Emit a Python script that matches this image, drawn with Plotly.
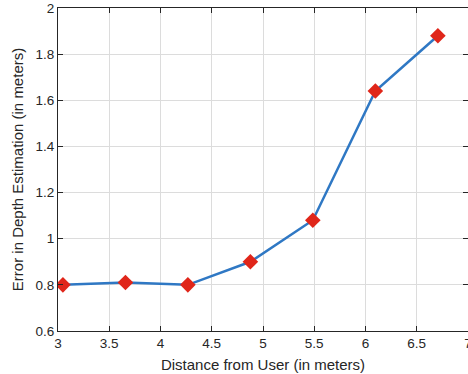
import plotly.graph_objects as go

# Distance from user (meters) and depth-estimation error (meters)
distance_m = [3.048, 3.658, 4.267, 4.877, 5.486, 6.096, 6.706]
error_m = [0.80, 0.81, 0.80, 0.90, 1.08, 1.64, 1.88]

x_ticks = [3, 3.5, 4, 4.5, 5, 5.5, 6, 6.5, 7]
x_tick_text = ["3", "3.5", "4", "4.5", "5", "5.5", "6", "6.5", "7"]
y_ticks = [0.6, 0.8, 1.0, 1.2, 1.4, 1.6, 1.8, 2.0]
y_tick_text = ["0.6", "0.8", "1", "1.2", "1.4", "1.6", "1.8", "2"]

FONT = "Liberation Sans, Arial, sans-serif"
INK = "#262626"

fig = go.Figure()
fig.add_trace(go.Scatter(
    x=distance_m, y=error_m,
    mode="lines+markers",
    line=dict(color="#2F78C4", width=2.5),
    marker=dict(symbol="diamond", size=12, color="#E0261A",
                line=dict(width=0)),
    showlegend=False,
))

axis_common = dict(
    showgrid=True, gridcolor="#DCDCDC", gridwidth=1,
    showline=True, linecolor=INK, linewidth=1, mirror="ticks",
    ticks="inside", ticklen=5, tickcolor=INK,
    zeroline=False,
    tickfont=dict(family=FONT, size=13.5, color=INK),
    ticklabeloverflow="allow",
    automargin=False,
)

fig.update_xaxes(
    range=[3, 7], tickvals=x_ticks, ticktext=x_tick_text,
    title=dict(text="Distance from User (in meters)", standoff=9,
               font=dict(family=FONT, size=15, color=INK)),
    **axis_common,
)
fig.update_yaxes(
    range=[0.6, 2.0], tickvals=y_ticks, ticktext=y_tick_text,
    title=dict(text="Error in Depth Estimation (in meters)", standoff=8,
               font=dict(family=FONT, size=15, color=INK)),
    **axis_common,
)

fig.update_layout(
    width=468, height=374,
    margin=dict(l=58, r=0, t=8, b=43, autoexpand=False),
    plot_bgcolor="white", paper_bgcolor="white",
    font=dict(family=FONT),
)

fig.write_html("out.html")
